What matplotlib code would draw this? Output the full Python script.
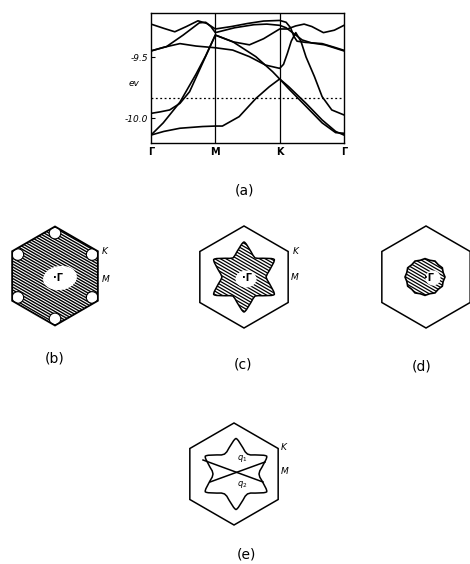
import numpy as np
import matplotlib
matplotlib.use("Agg")
import matplotlib.pyplot as plt
from matplotlib.patches import Polygon, Ellipse, Circle
from matplotlib.collections import LineCollection

# band structure along Gamma-M-K-Gamma, symmetry points drawn equally spaced
K_TICKS = [0, 1, 2, 3]
K_LABELS = ["Γ", "M", "K", "Γ"]
E_TICKS = [-9.5, -10.0]
E_TICK_LABELS = ["-9.5", "-10.0"]
E_FERMI = -9.836

BAND_1_K = [0, .2, .37, .55, .73, .87, 1, 1.25, 1.5, 1.75, 2, 2.1, 2.17, 2.22, 2.27, 2.4, 2.66, 2.85, 3]
BAND_1_E = [-9.23, -9.265, -9.293, -9.25, -9.203, -9.225, -9.27, -9.25, -9.225, -9.205, -9.20,
            -9.215, -9.26, -9.33, -9.37, -9.38, -9.39, -9.42, -9.445]

BAND_2_K = [0, .24, .5, .75, .85, .93, 1, 1.3, 1.6, 1.8, 2, 2.1, 2.2, 2.35, 2.5, 2.7, 2.85, 3]
BAND_2_E = [-9.45, -9.415, -9.32, -9.22, -9.215, -9.25, -9.30, -9.26, -9.235, -9.23, -9.24,
            -9.26, -9.30, -9.36, -9.385, -9.40, -9.425, -9.45]

BAND_3_K = [0, .14, .29, .45, .6, .8, 1, 1.27, 1.53, 1.75, 2, 2.12, 2.25, 2.38, 2.5, 2.68, 2.85, 3]
BAND_3_E = [-9.962, -9.95, -9.934, -9.88, -9.784, -9.552, -9.32, -9.375, -9.40, -9.35, -9.27,
            -9.27, -9.245, -9.23, -9.25, -9.30, -9.28, -9.24]

BAND_4_K = [0, .2, .45, .7, 1, 1.27, 1.53, 1.78, 2, 2.06, 2.12, 2.18, 2.25, 2.33, 2.41, 2.54,
            2.66, 2.81, 3]
BAND_4_E = [-9.45, -9.42, -9.39, -9.41, -9.424, -9.443, -9.497, -9.566, -9.593, -9.56, -9.47,
            -9.37, -9.30, -9.37, -9.50, -9.66, -9.825, -9.934, -9.975]

BAND_5_K = [0, .19, .45, .7, .85, 1, 1.27, 1.63, 1.89, 2, 2.14, 2.41, 2.66, 2.87, 3]
BAND_5_E = [-10.14, -10.04, -9.87, -9.64, -9.49, -9.32, -9.374, -9.497, -9.62, -9.68, -9.743,
            -9.88, -10.016, -10.11, -10.14]

BAND_6_K = [0, .2, .45, .8, 1, 1.11, 1.37, 1.63, 1.84, 2, 2.14, 2.41, 2.66, 2.87, 3]
BAND_6_E = [-10.14, -10.11, -10.084, -10.07, -10.066, -10.066, -9.989, -9.84, -9.743, -9.68,
            -9.76, -9.905, -10.04, -10.12, -10.125]

BANDS = [(BAND_1_K, BAND_1_E), (BAND_2_K, BAND_2_E), (BAND_3_K, BAND_3_E),
         (BAND_4_K, BAND_4_E), (BAND_5_K, BAND_5_E), (BAND_6_K, BAND_6_E)]

# Brillouin zone sketches: centre x, centre y, circumradius (figure pixels)
ZONE_B = (55, 276, 49.5)
ZONE_C = (244, 277, 51)
ZONE_D = (426, 277, 51)
ZONE_E = (234, 474, 51)

# Fermi surface outlines: radius vs angle away from the M direction (one half sector)
STAR_ANGLES = [0, 7.5, 15, 22.5, 26, 28.5, 30]
STAR_C_RADII = [22, 23.5, 26.5, 30.5, 33, 34.5, 35]
STAR_E_RADII = [23, 24, 27, 31, 33.5, 35, 35.5]
DISC_D_RADII = [20, 18.8]


def hexagon(cx, cy, r):
    a = np.radians([90, 30, -30, -90, -150, 150])
    return np.column_stack([cx + r * np.cos(a), cy - r * np.sin(a)])


def star(cx, cy, radii):
    ang = list(STAR_ANGLES) + [60 - a for a in STAR_ANGLES[::-1][1:]]
    rad = list(radii) + list(radii[::-1][1:])
    th, rr = [], []
    for j in range(6):
        th += [60 * j + a for a in ang[:-1]]
        rr += rad[:-1]
    th = np.radians(th)
    rr = np.array(rr)
    return np.column_stack([cx + rr * np.cos(th), cy - rr * np.sin(th)])


def disc(cx, cy, radii, squash=0.92):
    th = np.radians(np.arange(0, 360, 15))
    rr = np.array([radii[i % 2] for i in range(len(th))])
    return np.column_stack([cx + rr * np.cos(th), cy - squash * rr * np.sin(th)])


def hatch(ax, patch, cx, cy, size, spacing=2.9, angle=30, lw=0.8):
    a = np.radians(angle)
    d = np.array([np.cos(a), np.sin(a)])
    n = np.array([-np.sin(a), np.cos(a)])
    segs = []
    for t in np.arange(-1.5 * size, 1.5 * size, spacing):
        p = np.array([cx, cy]) + t * n
        segs.append([p - 2 * size * d, p + 2 * size * d])
    lc = LineCollection(segs, colors="black", linewidths=lw, zorder=1.5)
    ax.add_collection(lc)
    lc.set_clip_path(patch)


def outline(ax, pts, lw=1.1):
    ax.add_patch(Polygon(pts, closed=True, fill=False, edgecolor="black", lw=lw, zorder=4))


def gamma_label(ax, x, y):
    ax.text(x, y, "·Γ", fontsize=7, fontweight="bold", ha="center", va="center", zorder=5)


fig = plt.figure(figsize=(4.7, 5.64), dpi=100)
base = fig.add_axes([0, 0, 1, 1])
base.set_xlim(0, 470)
base.set_ylim(564, 0)
base.axis("off")

# (b) almost filled zone with hole pockets at K
cx, cy, r = ZONE_B
hx = Polygon(hexagon(cx, cy, r), closed=True, facecolor="white", edgecolor="none", zorder=1)
base.add_patch(hx)
hatch(base, hx, cx, cy, r, spacing=2.5, lw=1.0)
base.add_patch(Ellipse((cx + 5, cy + 2), 34, 24, angle=-8, facecolor="white", edgecolor="none", zorder=2))
for v in hexagon(cx, cy, r - 6.6):
    c = Circle(v, 5.8, facecolor="white", edgecolor="black", lw=0.8, zorder=3)
    base.add_patch(c)
    c.set_clip_path(hx)
outline(base, hexagon(cx, cy, r), lw=1.3)
gamma_label(base, cx + 3, cy + 2)
base.text(105, 252, "K", fontsize=6.5, style="italic", ha="center", va="center")
base.text(106, 279, "M", fontsize=6.5, style="italic", ha="center", va="center")

# (c) six-pointed star
cx, cy, r = ZONE_C
outline(base, hexagon(cx, cy, r))
st = Polygon(star(cx, cy, STAR_C_RADII), closed=True, facecolor="white", edgecolor="none", zorder=1)
base.add_patch(st)
hatch(base, st, cx, cy, 40, spacing=2.8, lw=0.9)
base.add_patch(Ellipse((cx + 2, cy + 2), 21, 17, facecolor="white", edgecolor="none", zorder=2))
outline(base, star(cx, cy, STAR_C_RADII))
gamma_label(base, cx + 3, cy + 1)
base.text(296, 252, "K", fontsize=6.5, style="italic", ha="center", va="center")
base.text(295, 278, "M", fontsize=6.5, style="italic", ha="center", va="center")

# (d) small disc around Gamma
cx, cy, r = ZONE_D
outline(base, hexagon(cx, cy, r))
dc = Polygon(disc(cx - 1, cy, DISC_D_RADII), closed=True, facecolor="white", edgecolor="none", zorder=1)
base.add_patch(dc)
hatch(base, dc, cx, cy, 25, spacing=2.8, lw=0.9)
base.add_patch(Ellipse((cx + 7, cy + 1), 15, 15, facecolor="white", edgecolor="none", zorder=2))
outline(base, disc(cx - 1, cy, DISC_D_RADII), lw=1.2)
gamma_label(base, cx + 3, cy + 1)

# (e) star outline with nesting vectors
cx, cy, r = ZONE_E
outline(base, hexagon(cx, cy, r))
outline(base, star(cx + 2, cy, STAR_E_RADII))
base.plot([203, 263], [460, 482], color="black", lw=1.1)
base.plot([210, 265], [482, 462], color="black", lw=1.1)
base.text(242, 459, "$q_1$", fontsize=6, ha="center", va="center")
base.text(242, 484, "$q_2$", fontsize=6, ha="center", va="center")
base.text(284, 447, "K", fontsize=6.5, style="italic", ha="center", va="center")
base.text(285, 471, "M", fontsize=6.5, style="italic", ha="center", va="center")

for lab, x, y in [("(a)", 245, 191), ("(b)", 55, 358), ("(c)", 243, 364), ("(d)", 422, 366),
                  ("(e)", 246, 555)]:
    base.text(x, y, lab, fontsize=10, ha="center", va="center")

# (a) band structure
ax = fig.add_axes([151 / 470, 1 - 143 / 564, 193 / 470, 130 / 564])
for k, e in BANDS:
    ax.plot(k, e, color="black", lw=1.2)
ax.axvline(1, color="black", lw=0.9)
ax.axvline(2, color="black", lw=0.9)
ax.axhline(E_FERMI, color="black", lw=0.9, ls=(0, (1.5, 2)))
ax.set_xlim(0, 3)
ax.set_ylim(-10.205, -9.139)
ax.set_xticks(K_TICKS)
ax.set_xticklabels(K_LABELS, fontsize=7, fontweight="bold")
ax.set_yticks(E_TICKS)
ax.set_yticklabels(E_TICK_LABELS, fontsize=6.5, style="italic")
ax.tick_params(axis="y", direction="in", length=3, pad=2)
ax.tick_params(axis="x", length=0, pad=3)
for s in ax.spines.values():
    s.set_linewidth(1.0)
base.text(134, 83, "ev", fontsize=6.5, style="italic", ha="center", va="center")

fig.savefig("out.png", dpi=100)
